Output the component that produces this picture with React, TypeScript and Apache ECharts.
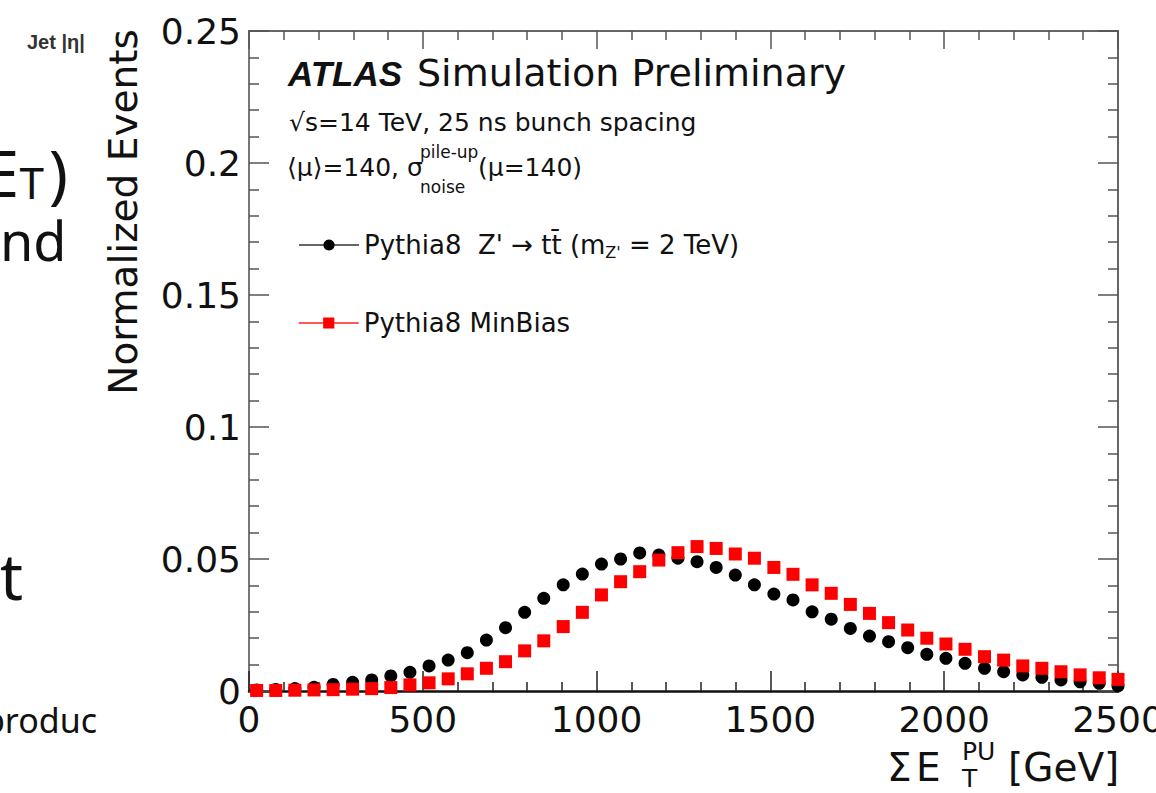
import React, { useEffect, useRef } from 'react';
import * as echarts from 'echarts';

// ---- data ----
const binCenters = [
  22, 77, 132, 187, 242, 298, 353, 408, 463, 518, 573, 628, 683, 738, 793, 848,
  904, 959, 1014, 1069, 1124, 1179, 1234, 1289, 1344, 1399, 1454, 1510, 1565, 1620,
  1675, 1730, 1785, 1840, 1895, 1950, 2005, 2060, 2116, 2171, 2226, 2281, 2336, 2391,
  2446, 2500,
];
const zprimeTT = [
  0.0004, 0.0006, 0.0009, 0.0014, 0.0025, 0.0033, 0.0042, 0.0057, 0.0071, 0.0095,
  0.0117, 0.0145, 0.0193, 0.024, 0.0298, 0.0351, 0.0402, 0.0443, 0.0481, 0.05,
  0.0523, 0.0515, 0.0503, 0.049, 0.0468, 0.0439, 0.0402, 0.0367, 0.0345, 0.03,
  0.0272, 0.0237, 0.0208, 0.0187, 0.0164, 0.0139, 0.0124, 0.0105, 0.0086, 0.0073,
  0.0061, 0.0052, 0.0042, 0.0035, 0.0029, 0.0019,
];
const minBias = [
  0.0002, 0.0002, 0.0003, 0.0004, 0.0005, 0.0007, 0.0009, 0.0013, 0.0023, 0.0031,
  0.0046, 0.0065, 0.0086, 0.0111, 0.0152, 0.019, 0.0244, 0.0298, 0.0364, 0.0414,
  0.0452, 0.0496, 0.0524, 0.0547, 0.054, 0.0519, 0.0503, 0.0468, 0.0442, 0.0402,
  0.037, 0.0328, 0.0294, 0.0259, 0.0231, 0.02, 0.0178, 0.0158, 0.013, 0.0117,
  0.0095, 0.0086, 0.0073, 0.0061, 0.005, 0.0044,
];
const xTickLabels = ['0', '500', '1000', '1500', '2000', '2500'];
const yTickLabels = ['0', '0.05', '0.1', '0.15', '0.2', '0.25'];
const seriesNames = ["Pythia8  Z' → tt̄ (m_Z' = 2 TeV)", 'Pythia8 MinBias'];

const FONT = 'DejaVu Sans';

function txt(
  x: number,
  y: number,
  text: string,
  font: string,
  align = 'left',
  fill = '#111',
  lineHeight?: number,
) {
  const style: any = {
    text,
    font,
    fill,
    textAlign: align,
    align,
    textVerticalAlign: 'middle',
    verticalAlign: 'middle',
  };
  if (lineHeight) style.lineHeight = lineHeight;
  return { type: 'text', x, y, silent: true, style };
}

export default function App() {
  const ref = useRef<HTMLDivElement>(null);
  useEffect(() => {
    const chart = echarts.init(ref.current!, null, { renderer: 'svg' });
    const axisCommon = {
      type: 'value',
      splitLine: { show: false },
    };
    const option: any = {
      animation: false,
      textStyle: { fontFamily: FONT },
      grid: {
        left: 249,
        right: 38,
        top: 31,
        bottom: 102,
        show: false,
        containLabel: false,
        outerBoundsMode: 'none',
      },
      xAxis: [
        {
          ...axisCommon,
          position: 'bottom',
          min: 0,
          max: 2500,
          interval: 500,
          axisLine: { show: true, onZero: false, lineStyle: { color: '#111', width: 2.5 } },
          axisTick: { show: true, inside: true, length: 20, lineStyle: { color: '#222', width: 1.5 } },
          minorTick: { show: true, splitNumber: 5, length: 9, lineStyle: { color: '#222', width: 1.5 } },
          axisLabel: {
            fontFamily: FONT,
            fontSize: 36,
            lineHeight: 30,
            color: '#111',
            margin: 13,
            formatter: (v: number) => xTickLabels[Math.round(v / 500)] ?? '',
          },
        },
        {
          ...axisCommon,
          position: 'top',
          min: 0,
          max: 2500,
          interval: 500,
          axisLine: { show: true, onZero: false, lineStyle: { color: '#666', width: 2 } },
          axisTick: { show: true, inside: true, length: 18, lineStyle: { color: '#555', width: 1.5 } },
          minorTick: { show: true, splitNumber: 5, length: 9, lineStyle: { color: '#555', width: 1.5 } },
          axisLabel: { show: false },
        },
      ],
      yAxis: [
        {
          ...axisCommon,
          position: 'left',
          min: 0,
          max: 0.25,
          interval: 0.05,
          axisLine: { show: true, onZero: false, lineStyle: { color: '#777', width: 2 } },
          axisTick: { show: true, inside: true, length: 20, lineStyle: { color: '#555', width: 1.5 } },
          minorTick: { show: true, splitNumber: 5, length: 10, lineStyle: { color: '#555', width: 1.5 } },
          axisLabel: {
            fontFamily: FONT,
            fontSize: 36,
            color: '#111',
            margin: 8,
            formatter: (v: number) => yTickLabels[Math.round(v / 0.05)] ?? '',
          },
        },
        {
          ...axisCommon,
          position: 'right',
          min: 0,
          max: 0.25,
          interval: 0.05,
          axisLine: { show: true, onZero: false, lineStyle: { color: '#666', width: 2 } },
          axisTick: { show: true, inside: true, length: 20, lineStyle: { color: '#555', width: 1.5 } },
          minorTick: { show: true, splitNumber: 5, length: 10, lineStyle: { color: '#555', width: 1.5 } },
          axisLabel: { show: false },
        },
      ],
      legend: [
        {
          data: [{ name: seriesNames[0], lineStyle: { color: '#666', width: 2 } }],
          left: 298,
          top: 204,
          padding: 0,
          itemWidth: 60,
          itemHeight: 14,
          selectedMode: false,
          formatter: () => "{a|Pythia8  Z' → tt̄ (m}{s|Z'}{a| = 2 TeV)}",
          textStyle: {
            fontFamily: FONT,
            fontSize: 26,
            color: '#111',
            rich: {
              a: { fontFamily: FONT, fontSize: 26, lineHeight: 30, color: '#111', verticalAlign: 'middle' },
              s: { fontFamily: FONT, fontSize: 16, lineHeight: 16, color: '#111', verticalAlign: 'bottom', padding: [40, 0, 0, 0] },
            },
          },
        },
        {
          data: [{ name: seriesNames[1], lineStyle: { color: '#ff2020', width: 1.5 } }],
          left: 298,
          top: 308,
          padding: 0,
          itemWidth: 60,
          itemHeight: 14,
          selectedMode: false,
          textStyle: { fontFamily: FONT, fontSize: 26, lineHeight: 30, color: '#111' },
        },
      ],
      series: [
        {
          name: seriesNames[0],
          type: 'line',
          data: binCenters.map((x, i) => [x, zprimeTT[i]]),
          symbol: 'circle',
          symbolSize: 13,
          showAllSymbol: true,
          clip: false,
          lineStyle: { width: 0 },
          itemStyle: { color: '#000' },
          emphasis: { disabled: true },
        },
        {
          name: seriesNames[1],
          type: 'line',
          data: binCenters.map((x, i) => [x, minBias[i]]),
          symbol: 'rect',
          symbolSize: 13,
          showAllSymbol: true,
          clip: false,
          lineStyle: { width: 0 },
          itemStyle: { color: '#ff0000' },
          emphasis: { disabled: true },
        },
      ],
      graphic: [
        // slide fragments on the left
        txt(19, 172, 'E', `64px "Noto Sans"`, 'right', '#111', 52),
        txt(44, 182, 'T', `44px "Noto Sans"`, 'right', '#111', 36),
        txt(68, 172, ')', `64px "Noto Sans"`, 'right', '#111', 52),
        txt(0, 240, 'nd', `54px "Noto Sans"`, 'left', '#111', 46),
        txt(0, 575, 't', `64px "Noto Sans"`, 'left'),
        txt(97, 720, 'produc', `34px "Noto Sans"`, 'right'),
        txt(27, 42, 'Jet |η|', `bold 20px "Liberation Sans Narrow", "Liberation Sans"`, 'left', '#333'),
        // y-axis title
        {
          type: 'text',
          x: 123,
          y: 212,
          rotation: Math.PI / 2,
          silent: true,
          style: {
            text: 'Normalized Events',
            font: `39px "${FONT}"`,
            fill: '#111',
            textAlign: 'center',
            align: 'center',
            textVerticalAlign: 'middle',
            verticalAlign: 'middle',
          },
        },
        // x-axis title
        txt(887, 767, 'Σ', `39px "${FONT}"`),
        txt(916, 767, 'E', `39px "${FONT}"`),
        txt(962, 751, 'PU', `25px "${FONT}"`, 'left', '#111', 22),
        txt(962, 778, 'T', `25px "${FONT}"`, 'left', '#111', 22),
        txt(1008, 767, '[GeV]', `39px "${FONT}"`),
        // ATLAS label
        txt(288, 73, 'ATLAS', `italic bold 35px "Liberation Sans"`),
        txt(417, 73, 'Simulation Preliminary', `38px "${FONT}"`),
        txt(289, 122, '√s=14 TeV, 25 ns bunch spacing', `25px "${FONT}"`),
        txt(287, 167, '⟨μ⟩=140, σ', `25px "${FONT}"`),
        txt(420, 152, 'pile-up', `17px "${FONT}"`),
        txt(420, 187, 'noise', `17px "${FONT}"`),
        txt(478, 167, '(μ=140)', `25px "${FONT}"`),
      ],
    };
    chart.setOption(option);
    return () => chart.dispose();
  }, []);
  return (
    <div
      ref={ref}
      style={{ position: 'fixed', left: 0, top: 0, width: 1156, height: 793, background: '#fff' }}
    />
  );
}
